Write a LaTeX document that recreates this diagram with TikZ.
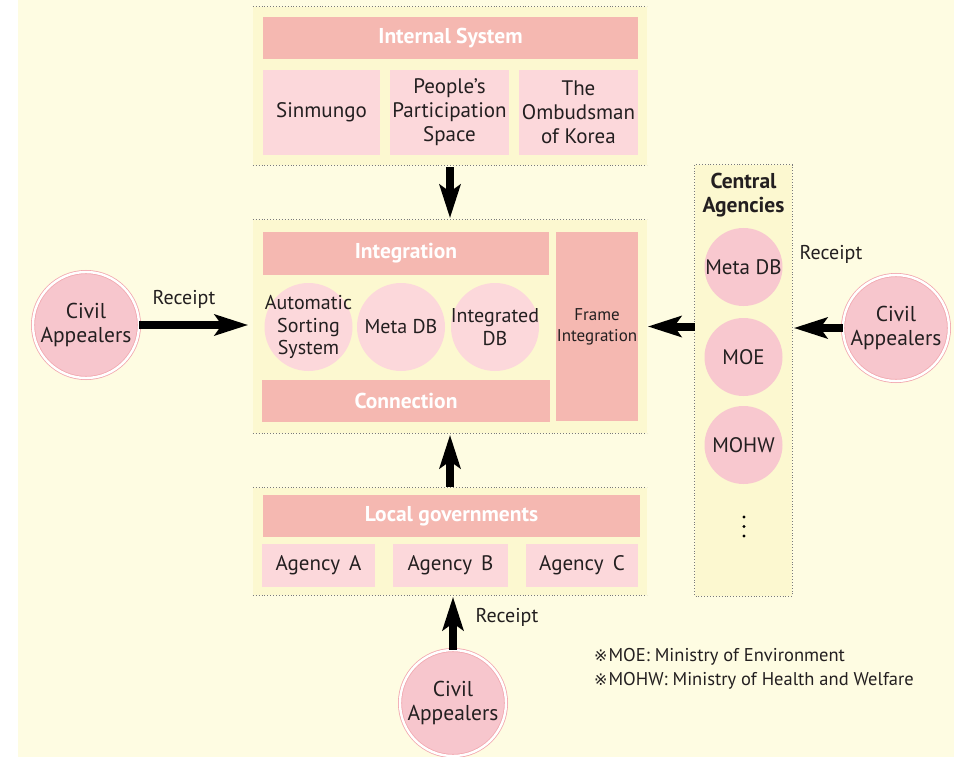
\documentclass[tikz,border=0pt]{standalone}
\usepackage{fontspec}
\setmainfont{PT Sans}
\newfontfamily\marksym{DejaVu Sans}
\usetikzlibrary{arrows.meta}

\definecolor{pagebg}{HTML}{FEFCE2}
\definecolor{panelbg}{HTML}{FCF8D0}
\definecolor{hdrfill}{HTML}{F5B8B1}
\definecolor{subfill}{HTML}{FCD8DB}
\definecolor{agfill}{HTML}{F8C8CF}
\definecolor{civfill}{HTML}{F7C6CD}
\definecolor{civline}{HTML}{F2A8AF}
\definecolor{ink}{HTML}{231F20}
\definecolor{dotgray}{HTML}{7A7A7A}

\begin{document}
\begin{tikzpicture}[x=1pt,y=-1pt,
  every node/.style={text=ink, align=center, inner sep=0pt},
  panelbox/.style={fill=panelbg, draw=none},
  dotline/.style={draw=dotgray, line width=0.9pt, dotted},
  hdr/.style={fill=hdrfill, text=white, font=\fontsize{21.5}{24}\selectfont\bfseries},
  sub/.style={fill=subfill, font=\fontsize{21}{24}\selectfont},
  dbcirc/.style={circle, fill=subfill, minimum size=88pt, inner sep=-16pt,
    font=\fontsize{20}{22.5}\selectfont},
  agcirc/.style={circle, fill=agfill, minimum size=78pt, inner sep=-10pt,
    font=\fontsize{21}{24}\selectfont},
  civil/.style={circle, minimum size=106pt, inner sep=-6pt, fill=civfill, draw=civline,
    line width=0.8pt, double=white, double distance=2.4pt, font=\fontsize{21.5}{24}\selectfont},
  bigarrow/.style={line width=8pt, draw=black,
    -{Stealth[length=34pt,width=22pt,inset=8pt,line width=0pt]}},
  rcpt/.style={font=\fontsize{20}{22}\selectfont},
  note/.style={font=\fontsize{18.5}{24}\selectfont, anchor=west, align=left}
]
\useasboundingbox (0,0) rectangle (954,757);
\fill[pagebg] (18,0) rectangle (954,757);

% ---- panels ----
\node[panelbox, minimum width=394pt, minimum height=158pt] (top) at (450,86) {};
\node[panelbox, minimum width=394pt, minimum height=213pt] (mid) at (450,326.5) {};
\node[panelbox, minimum width=394pt, minimum height=107pt] (bot) at (450,541.5) {};
\node[panelbox, minimum width=97pt, minimum height=431pt] (cen) at (743.5,380.5) {};
\draw[dotline] (top.north west) -- (top.north east);
\draw[dotline] (top.south west) -- (top.south east);
\draw[dotline] (mid.north west) -- (mid.north east);
\draw[dotline] (mid.south west) -- (mid.south east);
\draw[dotline] (bot.north west) -- (bot.north east);
\draw[dotline] (bot.south west) -- (bot.south east);
\draw[dotline] (cen.north west) rectangle (cen.south east);

% ---- internal system ----
\node[hdr, minimum width=375pt, minimum height=42pt] (ish) at (450.5,38) {Internal System};
\node[sub, minimum width=117pt, minimum height=85pt] (sin) at (321.5,112.5) {Sinmungo};
\node[sub, minimum width=119pt, minimum height=85pt] (pps) at (449.5,112.5) {People’s\\Participation\\Space};
\node[sub, minimum width=119pt, minimum height=85pt] (omb) at (578.5,112.5) {The\\Ombudsman\\of Korea};

% ---- integration ----
\node[hdr, minimum width=286pt, minimum height=43pt] (integ) at (406,253.5) {Integration};
\node[hdr, minimum width=288pt, minimum height=42pt] (conn) at (406,401) {Connection};
\node[fill=hdrfill, minimum width=82pt, minimum height=189pt,
      font=\fontsize{17}{21}\selectfont] (frame) at (597,326.5) {Frame\\Integration};
\node[dbcirc] (auto) at (308.5,327) {Automatic\\Sorting\\System};
\node[dbcirc] (meta) at (401,327) {Meta DB};
\node[dbcirc] (intdb) at (495,327) {Integrated\\DB};

% ---- local governments ----
\node[hdr, minimum width=377pt, minimum height=42pt] (loc) at (451.5,516) {Local governments};
\node[sub, minimum width=113pt, minimum height=43pt] (aga) at (318.5,565.5) {Agency\, A};
\node[sub, minimum width=115pt, minimum height=43pt] (agb) at (450.5,565.5) {Agency\, B};
\node[sub, minimum width=112pt, minimum height=43pt] (agc) at (582,565.5) {Agency\, C};

% ---- central agencies ----
\node[font=\fontsize{21.5}{24}\selectfont\bfseries] (centitle) at (743.5,195) {Central\\Agencies};
\node[agcirc] (cmeta) at (743.5,267) {Meta DB};
\node[agcirc] (moe) at (743.5,357) {MOE};
\node[agcirc] (mohw) at (743.5,445) {MOHW};
\foreach \yy in {517,526.5,536} \fill[black] (744,\yy) circle (1.6pt);

% ---- civil appealers ----
\node[civil] (caL) at (86,325) {Civil\\Appealers};
\node[civil] (caR) at (896,328) {Civil\\Appealers};
\node[civil] (caB) at (453,703) {Civil\\Appealers};

% ---- flows ----
\draw[bigarrow] ([yshift=-2pt]top.south) -- ([yshift=2pt]mid.north);
\draw[bigarrow] ([yshift=1pt]bot.north) -- ([yshift=-2pt]mid.south);
\draw[bigarrow] (caL.east) -- ([xshift=-5pt]mid.west |- caL.east);
\draw[bigarrow] (caR.west) -- ([xshift=2pt]cen.east |- caR.west);
\draw[bigarrow] (cen.west |- frame.east) -- ([xshift=1pt]mid.east |- frame.east);
\draw[bigarrow] (caB.north) -- ([yshift=-2pt]caB.north |- bot.south);

% ---- labels ----
\node[rcpt] (r1) at (184,299) {Receipt};
\node[rcpt] (r2) at (831,254) {Receipt};
\node[rcpt] (r3) at (507,617) {Receipt};

\node[note] (n1) at (594,657) {{\marksym\fontsize{16}{18}\selectfont ※}\kern1pt MOE: Ministry of Environment};
\node[note] (n2) at (594,681) {{\marksym\fontsize{16}{18}\selectfont ※}\kern1pt MOHW: Ministry of Health and Welfare};
\end{tikzpicture}
\end{document}
